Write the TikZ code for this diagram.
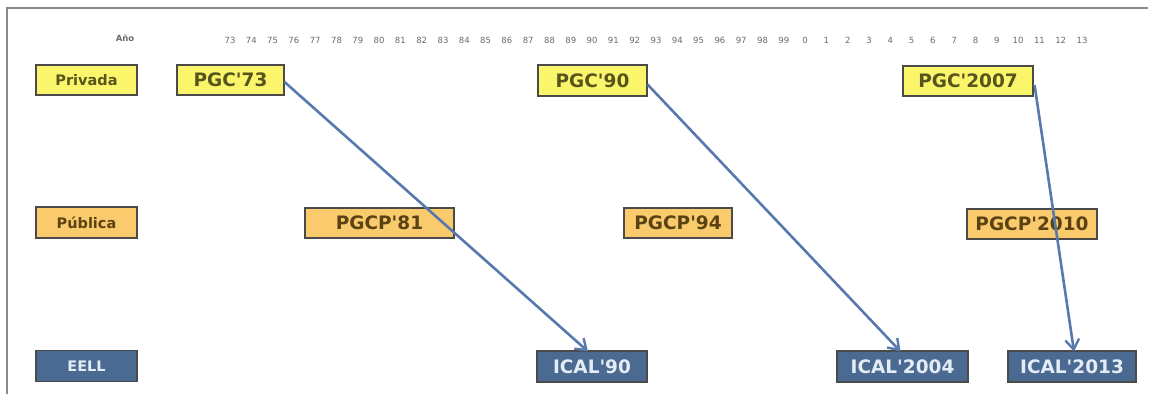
\documentclass[tikz,border=0pt]{standalone}
\usepackage{fontspec}
\setmainfont{DejaVu Sans}
\usetikzlibrary{arrows.meta}
\definecolor{yelfill}{HTML}{FAF56A}
\definecolor{orfill}{HTML}{F9CB6C}
\definecolor{bluefill}{HTML}{4A6A91}
\definecolor{boxline}{HTML}{4A4A4A}
\definecolor{yeltext}{HTML}{57541C}
\definecolor{ortext}{HTML}{5A4212}
\definecolor{bluetext}{HTML}{E4ECF6}
\definecolor{arrowcol}{HTML}{5879AD}
\definecolor{framecol}{HTML}{8A8A8A}
\definecolor{yearcol}{HTML}{6A6A6A}
\newcommand\apos{\textquotesingle}
\tikzset{
  basebox/.style={draw=boxline, line width=1.1pt, inner sep=0pt, font=\bfseries\fontsize{18.5}{20}\selectfont},
  yelbox/.style={basebox, fill=yelfill, text=yeltext},
  orbox/.style={basebox, fill=orfill, text=ortext},
  bluebox/.style={basebox, fill=bluefill, text=bluetext},
  rowlab/.style={font=\bfseries\fontsize{14.5}{16}\selectfont, minimum width=101pt},
  link/.style={draw=arrowcol, line width=2.6pt, -{Straight Barb[length=10pt,width=14pt,line width=2.4pt]}},
  yearlab/.style={text=yearcol, font=\fontsize{8.5}{10}\selectfont, inner sep=0pt}
}
\begin{document}
\begin{tikzpicture}[x=1pt,y=-1pt]
\useasboundingbox (0,0) rectangle (1154,394);
\draw[framecol, line width=1.4pt] (7,394) coordinate (fb) -- (7,8) coordinate (fc) -- (1148,8) coordinate (fd);
\node[yearlab, font=\bfseries\fontsize{8.5}{10}\selectfont] (ano) at (125,38) {Año};
\foreach \t [count=\i from 0] in {73,74,75,76,77,78,79,80,81,82,83,84,85,86,87,88,89,90,91,92,93,94,95,96,97,98,99,0,1,2,3,4,5,6,7,8,9,10,11,12,13}
  \node[yearlab] (y\i) at (230+21.3*\i,40) {\t};
% row labels
\node[yelbox, rowlab, minimum height=30pt] (privada) at (86.5,80) {Privada};
\node[orbox, rowlab, minimum height=31pt] (publica) at (86.5,222.5) {Pública};
\node[bluebox, rowlab, minimum height=31pt] (eell) at (86.5,366) {EELL};
% private
\node[yelbox, minimum width=107pt, minimum height=30pt] (pgc73) at (230.5,80) {PGC\apos73};
\node[yelbox, minimum width=109pt, minimum height=31pt] (pgc90) at (592.5,80.5) {PGC\apos90};
\node[yelbox, minimum width=130pt, minimum height=30pt] (pgc2007) at (968,81) {PGC\apos2007};
% public
\node[orbox, minimum width=149pt, minimum height=30pt] (pgcp81) at (379.5,223) {PGCP\apos81};
\node[orbox, minimum width=108pt, minimum height=30pt] (pgcp94) at (678,223) {PGCP\apos94};
\node[orbox, minimum width=130pt, minimum height=30pt] (pgcp2010) at (1032,224) {PGCP\apos2010};
% EELL
\node[bluebox, minimum width=110pt, minimum height=31pt] (ical90) at (592,366.5) {ICAL\apos90};
\node[bluebox, minimum width=131pt, minimum height=31pt] (ical2004) at (902.5,366.5) {ICAL\apos2004};
\node[bluebox, minimum width=128pt, minimum height=31pt] (ical2013) at (1072,366.5) {ICAL\apos2013};
% arrows
\draw[link] ([yshift=-2pt]pgc73.east) -- ([xshift=-4pt,yshift=-1pt]ical90.north);
\draw[link] ([yshift=-4pt]pgc90.east) -- ([xshift=-2pt,yshift=-1pt]ical2004.north);
\draw[link] ([xshift=1pt,yshift=-4pt]pgc2007.east) -- ([xshift=2pt,yshift=-1pt]ical2013.north);
\end{tikzpicture}
\end{document}
